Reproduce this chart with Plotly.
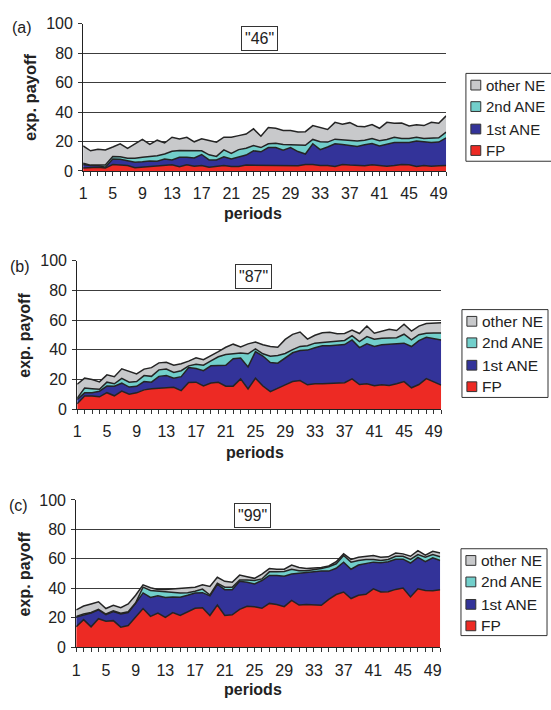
import plotly.graph_objects as go

W, H = 551, 710

periods = list(range(1, 51))
tick_labels = [str(p) if (p - 1) % 4 == 0 else "" for p in periods]
y_ticks = [0, 20, 40, 60, 80, 100]
series_names = ["FP", "1st ANE", "2nd ANE", "other NE"]
series_colors = ["#ED2A24", "#333399", "#72CFCB", "#C8C9CB"]

# Upper edges of the stacked bands (FP, +1st ANE, +2nd ANE, +other NE)
a_fp = [2.0, 2.4, 2.6, 2.0, 4.4, 4.0, 3.7, 2.2, 2.6, 2.9, 3.3, 3.5, 4.2, 2.9, 4.2, 3.3, 3.7, 2.6, 3.1, 3.7,
        3.1, 3.1, 4.0, 4.0, 4.0, 4.0, 3.7, 3.5, 4.0, 3.5, 4.4, 4.4, 3.7, 3.7, 3.1, 4.4, 4.0, 4.0, 3.5, 4.2,
        3.5, 3.3, 3.7, 4.4, 4.2, 3.1, 3.7, 3.3, 3.5, 3.7]
a_1st = [4.4, 3.7, 3.7, 2.6, 8.1, 7.9, 7.0, 5.9, 6.2, 6.8, 6.6, 8.1, 7.5, 9.3, 9.3, 8.8, 11.2, 7.5, 7.5, 9.7,
         8.1, 9.3, 10.8, 13.7, 13.0, 15.9, 15.9, 14.1, 15.9, 13.2, 11.5, 18.5, 14.5, 16.3, 18.5, 18.0, 17.4, 16.7, 17.8, 18.7,
         17.0, 18.0, 19.4, 19.4, 19.4, 20.3, 19.6, 19.4, 19.6, 22.5]
a_2nd = [5.3, 4.0, 4.0, 4.0, 9.9, 9.7, 8.6, 8.6, 9.3, 9.7, 10.4, 11.5, 13.4, 13.9, 13.9, 13.4, 13.7, 11.0, 9.9, 14.3,
         11.9, 14.5, 15.4, 17.2, 15.9, 18.5, 18.9, 18.0, 18.0, 17.6, 17.4, 21.4, 19.8, 19.6, 21.6, 21.1, 20.9, 20.3, 20.9, 22.0,
         20.5, 21.4, 22.9, 22.0, 22.0, 22.9, 22.0, 22.5, 22.5, 26.4]
a_other = [17.0, 13.7, 14.8, 14.3, 16.3, 18.5, 15.4, 18.5, 21.4, 18.0, 20.9, 19.0, 22.9, 21.8, 22.9, 19.8, 21.8, 20.7, 19.6, 22.9,
           22.9, 24.0, 25.1, 28.6, 23.6, 29.5, 29.0, 27.5, 27.5, 26.4, 26.7, 30.8, 29.5, 28.2, 33.0, 31.7, 32.8, 30.4, 30.0, 31.5,
           29.0, 33.0, 32.4, 32.6, 30.6, 31.3, 30.8, 33.0, 32.4, 37.4]

b_fp = [3.6, 8.8, 8.8, 8.3, 11.1, 9.0, 12.2, 10.1, 11.0, 13.0, 13.7, 14.1, 14.8, 14.8, 12.5, 17.9, 18.2, 15.7, 17.6, 18.1,
        15.5, 15.5, 20.4, 13.6, 20.8, 15.6, 11.8, 14.3, 16.4, 18.6, 19.3, 16.4, 17.1, 17.1, 17.5, 17.5, 17.8, 20.4, 16.6, 17.1,
        15.8, 16.4, 16.0, 17.1, 18.6, 14.4, 16.6, 20.6, 18.4, 16.2]
b_1st = [6.6, 11.0, 11.0, 12.1, 15.6, 15.4, 17.5, 14.9, 15.4, 18.6, 18.2, 22.1, 22.6, 20.8, 21.9, 28.1, 27.4, 25.9, 29.2, 29.6,
         29.6, 34.0, 34.5, 28.5, 38.8, 35.8, 31.4, 31.0, 34.5, 38.0, 39.5, 39.8, 41.4, 42.8, 42.8, 43.4, 43.5, 46.7, 41.5, 44.0,
         42.3, 43.4, 43.9, 43.9, 44.5, 42.2, 46.2, 48.5, 47.5, 46.6]
b_2nd = [7.4, 14.3, 13.8, 13.4, 18.2, 17.1, 20.8, 18.2, 18.6, 22.6, 22.1, 26.5, 27.0, 24.8, 25.9, 29.2, 30.3, 29.6, 32.5, 35.3,
         36.8, 37.5, 37.9, 37.3, 40.6, 37.3, 35.7, 36.2, 37.5, 40.1, 42.3, 42.8, 44.5, 45.0, 45.6, 45.8, 46.3, 49.5, 45.6, 48.9,
         47.1, 47.8, 48.0, 48.2, 50.5, 46.7, 50.2, 51.1, 51.4, 51.4]
b_other = [16.8, 20.9, 20.0, 18.4, 23.1, 21.9, 27.2, 25.3, 23.7, 27.0, 28.0, 31.2, 31.6, 29.6, 30.6, 32.4, 34.6, 33.3, 35.9, 38.8,
           41.7, 43.8, 41.9, 44.0, 45.3, 43.4, 42.3, 41.7, 47.0, 50.4, 52.0, 47.2, 49.8, 51.5, 51.8, 50.8, 51.0, 53.3, 51.0, 56.0,
           51.2, 52.6, 53.9, 53.0, 57.3, 52.6, 56.0, 57.7, 57.7, 58.2]

c_fp = [13.9, 18.8, 13.9, 19.4, 17.7, 18.1, 13.7, 14.8, 20.5, 26.3, 21.0, 23.2, 20.3, 23.6, 21.6, 23.8, 26.5, 26.9, 21.6, 28.7,
        21.6, 22.1, 25.8, 27.8, 27.6, 26.5, 29.8, 29.1, 27.6, 31.8, 28.7, 29.1, 28.7, 28.5, 32.5, 35.8, 37.5, 33.1, 35.3, 36.0,
        39.7, 37.5, 37.7, 39.3, 40.2, 34.2, 39.7, 38.6, 38.4, 39.1]
c_1st = [20.5, 22.1, 23.2, 25.4, 22.1, 24.3, 22.7, 23.6, 29.8, 36.9, 33.8, 34.9, 33.8, 34.2, 34.0, 35.3, 36.9, 37.1, 34.9, 42.8,
         39.1, 39.1, 44.8, 44.2, 43.0, 45.3, 48.8, 48.8, 48.3, 49.7, 50.3, 50.6, 51.4, 51.7, 51.7, 53.6, 57.8, 53.0, 55.8, 57.0,
         57.8, 57.4, 58.1, 59.8, 59.8, 57.2, 61.0, 58.1, 60.7, 58.9]
c_2nd = [21.0, 22.6, 23.6, 25.8, 22.6, 24.7, 23.2, 24.1, 30.2, 40.8, 38.6, 38.2, 37.7, 37.5, 36.9, 37.1, 38.0, 39.5, 35.5, 43.5,
         40.8, 40.8, 45.7, 45.7, 45.3, 46.4, 51.2, 51.2, 51.4, 53.0, 51.9, 51.9, 52.5, 53.4, 54.7, 56.7, 62.3, 57.8, 58.9, 59.6,
         59.6, 58.9, 59.6, 61.8, 61.8, 59.6, 62.9, 61.1, 62.9, 61.4]
c_other = [25.4, 28.0, 29.4, 30.9, 26.3, 28.5, 26.9, 29.4, 35.3, 42.4, 40.4, 39.3, 39.3, 39.7, 40.0, 40.4, 40.8, 42.4, 41.3, 47.5,
           44.8, 44.2, 49.0, 47.9, 46.8, 49.7, 53.4, 53.0, 53.0, 55.8, 54.1, 53.4, 53.6, 54.1, 55.2, 58.1, 63.4, 59.6, 61.1, 61.8,
           62.3, 61.1, 61.4, 64.0, 63.4, 61.8, 65.6, 62.5, 65.1, 64.0]


def fx(px):
    return px / W


def fy(py):
    return 1 - py / H


panels = [
    dict(tag="(a)", title='"46"', bands=[a_fp, a_1st, a_2nd, a_other],
         x0=80, x1=447, ytop=16, ybot=167, tag_xy=(18, 20), title_xy=(258, 31.5), ylab_x=27, per_xy=(252, 211),
         leg=(467, 560, 67, 157), leg_rows=[79, 101, 124, 146], fs=15, lab_fs=16.5),
    dict(tag="(b)", title='"87"', bands=[b_fp, b_1st, b_2nd, b_other],
         x0=74, x1=442, ytop=259, ybot=411, tag_xy=(16, 265), title_xy=(252.5, 275.5), ylab_x=21, per_xy=(254, 455),
         leg=(463, 550, 309, 399), leg_rows=[321, 343, 366, 388], fs=15.5, lab_fs=16),
    dict(tag="(c)", title='"99"', bands=[c_fp, c_1st, c_2nd, c_other],
         x0=73, x1=441, ytop=504, ybot=655, tag_xy=(15, 510), title_xy=(251, 520), ylab_x=21, per_xy=(252, 698),
         leg=(462, 549, 554, 643), leg_rows=[566, 588, 611, 633], fs=15.5, lab_fs=16),
]

FONT = "Arial, Liberation Sans, sans-serif"
TXT = "#222222"
fig = go.Figure()
annotations = []
shapes = []
layout_axes = {}

for i, p in enumerate(panels, start=1):
    xa = "x" if i == 1 else f"x{i}"
    ya = "y" if i == 1 else f"y{i}"
    for j, (band, name, col) in enumerate(zip(p["bands"], series_names, series_colors)):
        fig.add_trace(go.Scatter(
            x=periods, y=band, name=name, mode="lines",
            fill="tozeroy" if j == 0 else "tonexty", fillcolor=col,
            line=dict(color="#242424", width=1.5),
            xaxis=xa, yaxis=ya, showlegend=False, hoverinfo="skip"))
    xkey = "xaxis" if i == 1 else f"xaxis{i}"
    ykey = "yaxis" if i == 1 else f"yaxis{i}"
    layout_axes[xkey] = dict(
        domain=[fx(p["x0"]), fx(p["x1"])], range=[1, 50], anchor=ya,
        tickmode="array", tickvals=periods, ticktext=tick_labels,
        ticks="outside", ticklen=4, tickcolor="#333", tickwidth=1,
        showline=True, linecolor="#222", linewidth=1, showgrid=False, zeroline=False,
        tickfont=dict(family=FONT, size=16, color=TXT), ticklabelstandoff=4, fixedrange=True)
    layout_axes[ykey] = dict(
        domain=[fy(p["ybot"]), fy(p["ytop"])], range=[0, 100], anchor=xa,
        tickmode="array", tickvals=y_ticks, ticks="outside", ticklen=4, tickcolor="#333",
        showline=True, linecolor="#222", linewidth=1, showgrid=True, gridcolor="#3c3c3c", gridwidth=1,
        zeroline=False, tickfont=dict(family=FONT, size=16, color=TXT), ticklabelstandoff=2, fixedrange=True)

    annotations.append(dict(text=p["tag"], x=fx(p["tag_xy"][0]), y=fy(p["tag_xy"][1]), xref="paper", yref="paper",
                            showarrow=False, xanchor="center", yanchor="middle",
                            font=dict(family=FONT, size=16, color=TXT)))
    annotations.append(dict(text=p["title"], x=fx(p["title_xy"][0]), y=fy(p["title_xy"][1]), xref="paper", yref="paper",
                            showarrow=False, xanchor="center", yanchor="middle", bgcolor="white",
                            bordercolor="#333", borderwidth=1, borderpad=3,
                            font=dict(family=FONT, size=16, color=TXT)))
    annotations.append(dict(text="<b>exp. payoff</b>", x=fx(p["ylab_x"]), y=fy((p["ytop"] + p["ybot"]) / 2),
                            xref="paper", yref="paper", showarrow=False, textangle=-90,
                            xanchor="center", yanchor="middle", font=dict(family=FONT, size=p["lab_fs"], color=TXT)))
    annotations.append(dict(text="<b>periods</b>", x=fx(p["per_xy"][0]), y=fy(p["per_xy"][1]),
                            xref="paper", yref="paper", showarrow=False,
                            xanchor="center", yanchor="middle", font=dict(family=FONT, size=16, color=TXT)))
    lx0, lx1, ly0, ly1 = p["leg"]
    shapes.append(dict(type="rect", xref="paper", yref="paper", x0=fx(lx0), x1=fx(lx1), y0=fy(ly1), y1=fy(ly0),
                       line=dict(color="#333", width=1), fillcolor="white", layer="above"))
    for k, idx in enumerate([3, 2, 1, 0]):
        cy = p["leg_rows"][k]
        shapes.append(dict(type="rect", xref="paper", yref="paper",
                           x0=fx(lx0 + 5), x1=fx(lx0 + 15), y0=fy(cy + 5), y1=fy(cy - 5),
                           line=dict(color="#333", width=1), fillcolor=series_colors[idx], layer="above"))
        annotations.append(dict(text=series_names[idx], x=fx(lx0 + 18), y=fy(cy), xref="paper", yref="paper",
                                showarrow=False, xanchor="left", yanchor="middle",
                                font=dict(family=FONT, size=p["fs"], color=TXT)))

fig.update_layout(
    width=W, height=H, margin=dict(l=0, r=0, t=0, b=0),
    paper_bgcolor="white", plot_bgcolor="white", showlegend=False,
    annotations=annotations, shapes=shapes, **layout_axes)

fig.write_html("out.html")
